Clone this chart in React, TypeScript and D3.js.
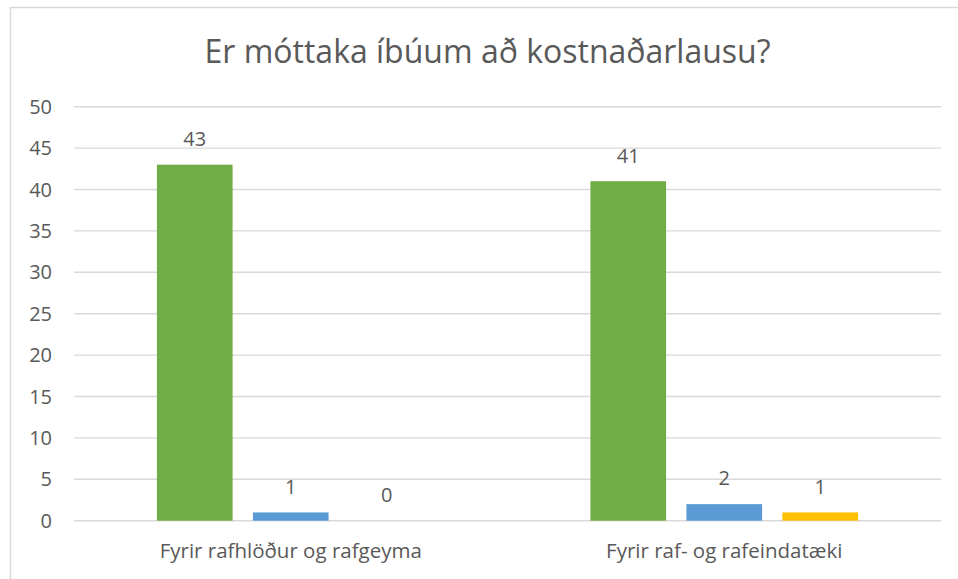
import React from "react";
import * as d3 from "d3";

const categories = ["Fyrir rafhlöður og rafgeyma", "Fyrir raf- og rafeindatæki"];
const seriesNames = ["Röð 1", "Röð 2", "Röð 3"];
const series1 = [43, 41];
const series2 = [1, 2];
const series3 = [0, 1];
const seriesColors = ["#70AD47", "#5B9BD5", "#FFC000"];
const yTicks = [0, 5, 10, 15, 20, 25, 30, 35, 40, 45, 50];
const title = "Er móttaka íbúum að kostnaðarlausu?";

const W = 958;
const H = 579;
const FONT = "'Open Sans', 'DejaVu Sans', sans-serif";
const TEXT = "#595959";
const GRID = "#D9D9D9";

export default function App() {
  const seriesValues = [series1, series2, series3];
  const y = d3.scaleLinear().domain([0, 50]).range([520.7, 106.7]);
  const x0 = d3
    .scaleBand<string>()
    .domain(categories)
    .range([74, 941])
    .paddingInner(0.3825)
    .paddingOuter(0.19125);
  const x1 = d3
    .scaleBand<number>()
    .domain(d3.range(seriesNames.length))
    .range([0, x0.bandwidth()])
    .paddingInner(0.2115)
    .paddingOuter(0);

  return (
    <svg
      width={W}
      height={H}
      style={{ position: "absolute", left: 0, top: 0, background: "#fff" }}
      fontFamily={FONT}
    >
      <rect x={10.5} y={7.5} width={W + 10} height={H + 10} fill="#fff" stroke={GRID} strokeWidth={1.5} />
      <text x={487.5} y={63.3} textAnchor="middle" fontSize={32} fill={TEXT}>
        {title}
      </text>
      {yTicks.map((t) => (
        <g key={t}>
          <line x1={74} x2={941} y1={y(t)} y2={y(t)} stroke={GRID} strokeWidth={1.4} />
          <text x={52} y={y(t) + 7} textAnchor="end" fontSize={20} fill={TEXT}>
            {t}
          </text>
        </g>
      ))}
      {categories.map((c, ci) => (
        <g key={c}>
          {seriesValues.map((vals, si) => {
            const v = vals[ci];
            const bx = (x0(c) as number) + (x1(si) as number);
            const bw = x1.bandwidth();
            return (
              <g key={si}>
                <rect x={bx} y={y(v)} width={bw} height={y(0) - y(v)} fill={seriesColors[si]} />
                <text x={bx + bw / 2} y={y(v) - 18.7} textAnchor="middle" fontSize={20} fill={TEXT}>
                  {v}
                </text>
              </g>
            );
          })}
          <text
            x={(x0(c) as number) + x0.bandwidth() / 2}
            y={558}
            textAnchor="middle"
            fontSize={20.5}
            fill={TEXT}
          >
            {c}
          </text>
        </g>
      ))}
    </svg>
  );
}
